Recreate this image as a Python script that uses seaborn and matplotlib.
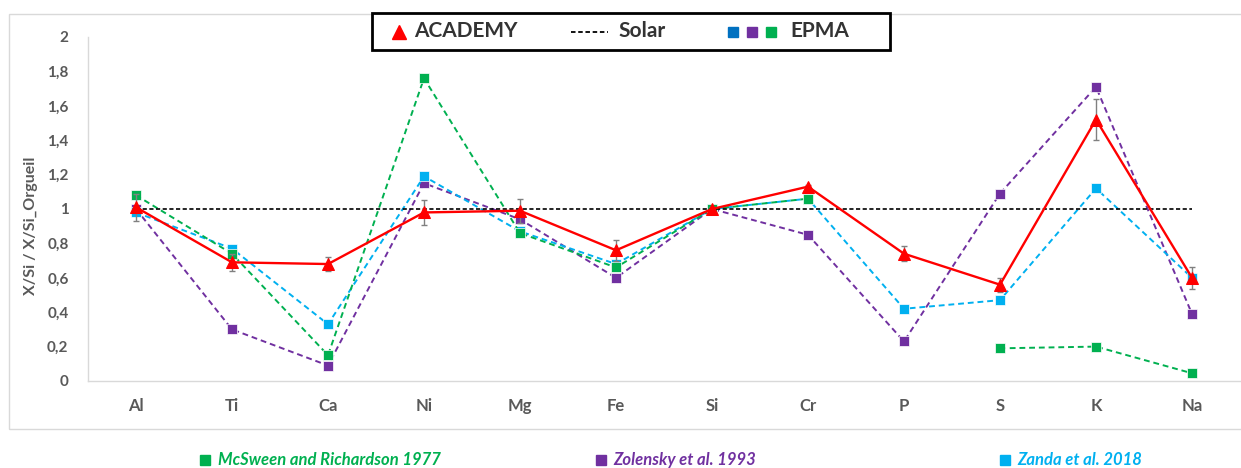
import numpy as np
import pandas as pd
import matplotlib
matplotlib.use("Agg")
import matplotlib.pyplot as plt
from matplotlib.patches import Rectangle
from matplotlib.lines import Line2D
import seaborn as sns

# ── data ──────────────────────────────────────────────────────────────────────
ELEMENTS = ["Al", "Ti", "Ca", "Ni", "Mg", "Fe", "Si", "Cr", "P", "S", "K", "Na"]
ACADEMY = [1.01, 0.69, 0.68, 0.98, 0.99, 0.76, 1.00, 1.13, 0.74, 0.56, 1.52, 0.60]
ACADEMY_ERR = [0.08, 0.05, 0.04, 0.075, 0.07, 0.06, 0.01, 0.01, 0.045, 0.04, 0.12, 0.065]
MCSWEEN = [1.08, 0.74, 0.15, 1.76, 0.86, 0.66, 1.00, 1.06, np.nan, 0.19, 0.20, 0.045]
ZOLENSKY = [1.00, 0.30, 0.09, 1.15, 0.94, 0.60, 1.00, 0.85, 0.23, 1.09, 1.71, 0.39]
ZANDA = [0.98, 0.77, 0.33, 1.19, 0.87, 0.68, 1.00, 1.06, 0.42, 0.47, 1.12, 0.60]
SOLAR = [1.0] * len(ELEMENTS)

GREEN = "#00b050"
PURPLE = "#7030a0"
BLUE = "#00b0f0"
DARKBLUE = "#0070c0"
RED = "#ff0000"
GREY = "#595959"

W, H = 1241, 468

sns.set_theme(style="white")
plt.rcParams["font.family"] = ["Lato", "DejaVu Sans"]


def fx(px):
    return px / W


def fy(py):
    return 1 - py / H


fig = plt.figure(figsize=(W / 100, H / 100), dpi=100)
ax = fig.add_axes([fx(88), fy(381), 1152 / W, 344 / H])
x = np.arange(len(ELEMENTS))


def dashed_series(values, color, z):
    df = pd.DataFrame({"x": x, "y": values})
    # break the line where a value is missing
    df["seg"] = df["y"].isna().cumsum()
    df = df.dropna()
    sns.lineplot(data=df, x="x", y="y", units="seg", estimator=None, ax=ax,
                 color=color, lw=1.4, linestyle=(0, (3, 2)), marker="s",
                 markersize=6.5, markeredgecolor="white",
                 markeredgewidth=0.5, zorder=z, legend=False)


dashed_series(ZOLENSKY, PURPLE, 2)
dashed_series(ZANDA, BLUE, 3)
dashed_series(MCSWEEN, GREEN, 4)

sns.lineplot(x=x, y=SOLAR, ax=ax, color="black", lw=1.2,
             linestyle=(0, (2.5, 1.5)), zorder=5, legend=False)

ax.errorbar(x, ACADEMY, yerr=ACADEMY_ERR, fmt="none", ecolor="#808080",
            elinewidth=1, capsize=2, capthick=1, zorder=6)
sns.lineplot(x=x, y=ACADEMY, ax=ax, color=RED, lw=1.7, marker="^",
             markersize=9, markeredgecolor=RED, zorder=7, legend=False)

# ── axes styling ──────────────────────────────────────────────────────────────
ax.set_xlim(-0.5, len(ELEMENTS) - 0.5)
ax.set_ylim(0, 2)
ax.set_xticks(x)
ax.set_xticklabels(ELEMENTS)
yt = np.round(np.arange(0, 2.01, 0.2), 1)
ax.set_yticks(yt)
ax.set_yticklabels([f"{v:.1f}".rstrip("0").rstrip(".").replace(".", ",")
                    for v in yt])
ax.tick_params(axis="y", length=0, pad=14, labelsize=11, colors=GREY)
ax.tick_params(axis="x", length=0, pad=12, labelsize=12, colors=GREY)
for lab in ax.get_xticklabels() + ax.get_yticklabels():
    lab.set_fontweight("bold")
ax.set_xlabel("")
ax.set_ylabel("X/Si / X/Si_Orgueil", fontsize=11.5, fontweight="bold",
              color=GREY)
ax.yaxis.set_label_coords(-0.043, 0.45)
for side in ["top", "right"]:
    ax.spines[side].set_visible(False)
for side in ["left", "bottom"]:
    ax.spines[side].set_color("#d9d9d9")
    ax.spines[side].set_linewidth(1)
ax.grid(False)

# outer chart border
fig.add_artist(Rectangle((fx(9), fy(429)), 1.0, (429 - 14) / H,
                         transform=fig.transFigure, fill=False,
                         ec="#d9d9d9", lw=1, zorder=0))

# ── top legend box ────────────────────────────────────────────────────────────
fig.add_artist(Rectangle((fx(372), fy(50)), (890 - 372) / W, 37 / H,
                         transform=fig.transFigure, fc="white", ec="black",
                         lw=2, zorder=10))
fig.add_artist(Line2D([fx(399)], [fy(32)], marker="^", color=RED, ms=10,
                      transform=fig.transFigure, zorder=11))
fig.text(fx(414), fy(31), "ACADEMY", ha="left", va="center", fontsize=15,
         fontweight="bold", color="#333333", zorder=11)
fig.add_artist(Line2D([fx(571), fx(608)], [fy(32), fy(32)], color="black",
                      lw=1.3, ls=(0, (2.5, 1.5)),
                      transform=fig.transFigure, zorder=11))
fig.text(fx(618), fy(31), "Solar", ha="left", va="center", fontsize=15,
         fontweight="bold", color="#333333", zorder=11)
for px, c in zip([733, 752, 771], [DARKBLUE, PURPLE, GREEN]):
    fig.add_artist(Line2D([fx(px)], [fy(32)], marker="s", color=c, ms=7,
                          lw=0, transform=fig.transFigure, zorder=11))
fig.text(fx(790), fy(31), "EPMA", ha="left", va="center", fontsize=15,
         fontweight="bold", color="#333333", zorder=11)

# ── bottom legend ─────────────────────────────────────────────────────────────
bottom = [(205, 218, "McSween and Richardson 1977", GREEN),
          (601, 613, "Zolensky et al. 1993", PURPLE),
          (1005, 1017, "Zanda et al. 2018", BLUE)]
for sq, tx, label, c in bottom:
    fig.add_artist(Line2D([fx(sq)], [fy(460)], marker="s", color=c, ms=7,
                          lw=0, transform=fig.transFigure))
    fig.text(fx(tx), fy(460), label, ha="left", va="center", fontsize=12,
             fontweight="bold", fontstyle="italic", color=c)

fig.savefig("out.png", dpi=100, facecolor="white")
plt.close(fig)
